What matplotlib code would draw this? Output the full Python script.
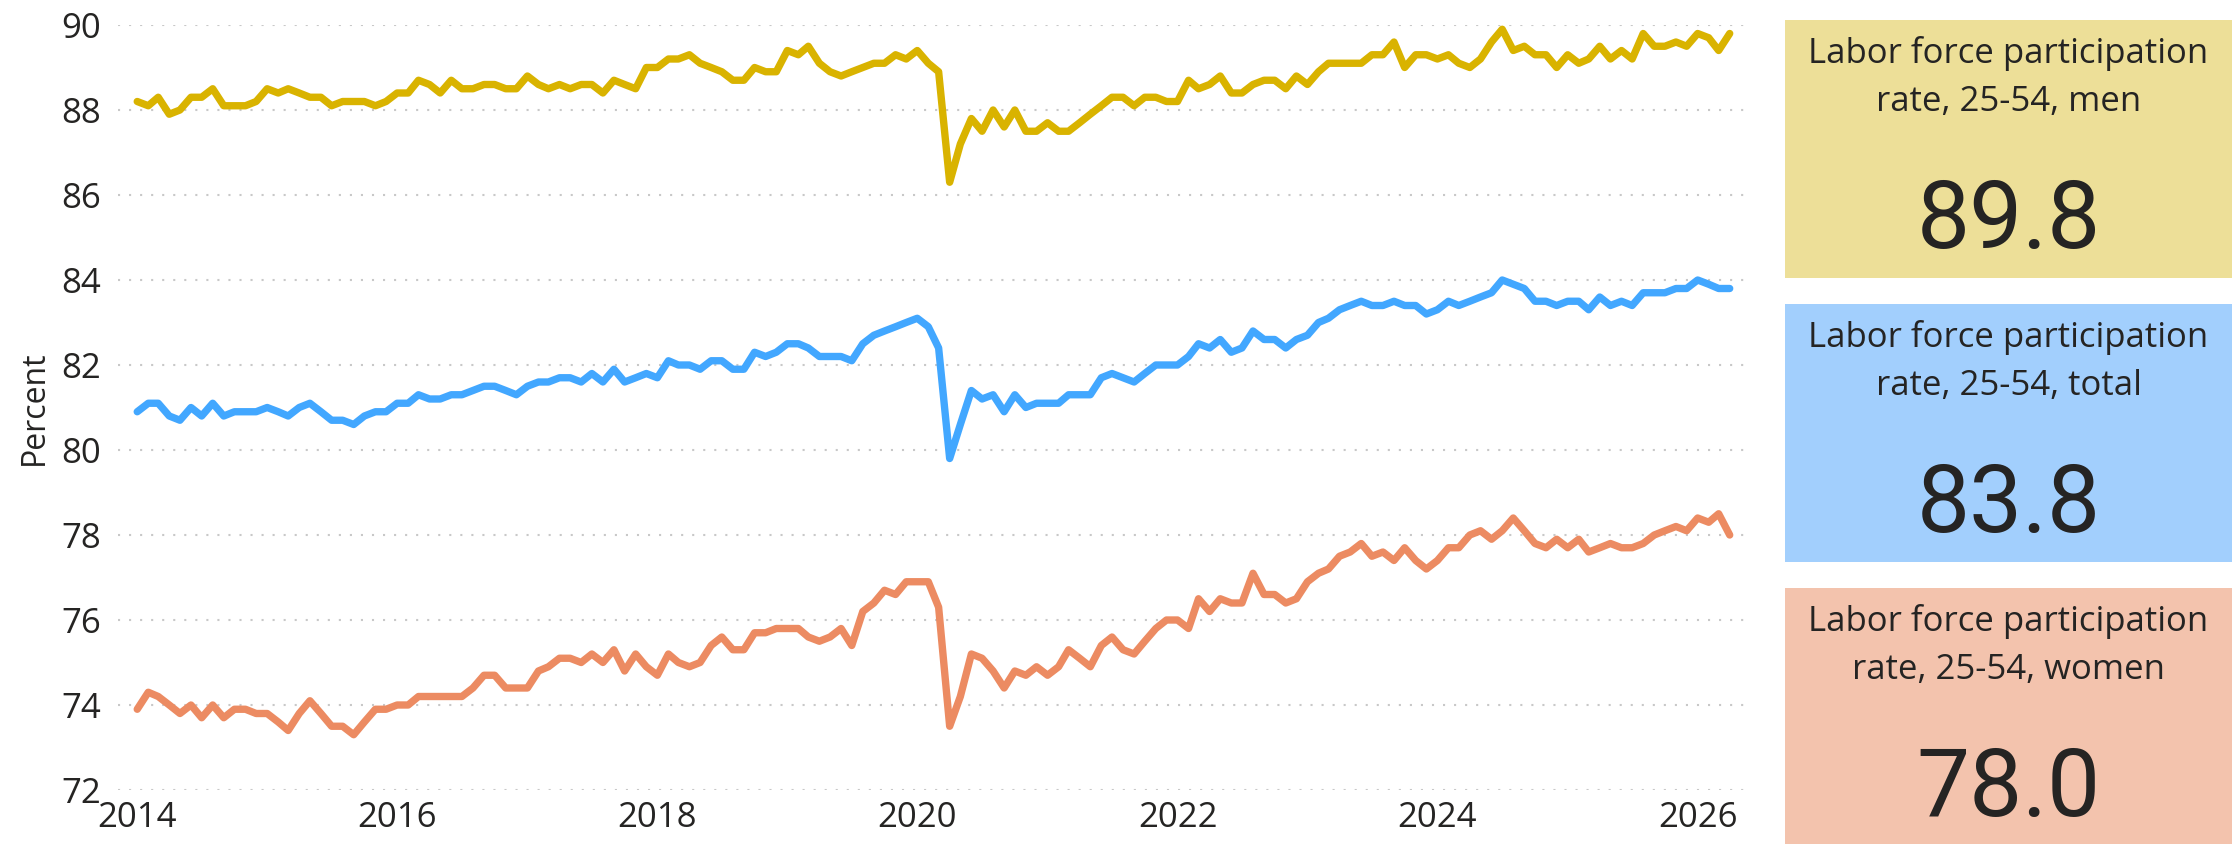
import matplotlib.pyplot as plt
import matplotlib.dates as mdates
from matplotlib.patches import Rectangle
import pandas as pd

# monthly data, Jan 2014 - Apr 2026
months = pd.date_range('2014-01-01', periods=148, freq='MS')

men = [88.2, 88.1, 88.3, 87.9, 88.0, 88.3, 88.3, 88.5, 88.1, 88.1, 88.1, 88.2,
       88.5, 88.4, 88.5, 88.4, 88.3, 88.3, 88.1, 88.2, 88.2, 88.2, 88.1, 88.2,
       88.4, 88.4, 88.7, 88.6, 88.4, 88.7, 88.5, 88.5, 88.6, 88.6, 88.5, 88.5,
       88.8, 88.6, 88.5, 88.6, 88.5, 88.6, 88.6, 88.4, 88.7, 88.6, 88.5, 89.0,
       89.0, 89.2, 89.2, 89.3, 89.1, 89.0, 88.9, 88.7, 88.7, 89.0, 88.9, 88.9,
       89.4, 89.3, 89.5, 89.1, 88.9, 88.8, 88.9, 89.0, 89.1, 89.1, 89.3, 89.2,
       89.4, 89.1, 88.9, 86.3, 87.2, 87.8, 87.5, 88.0, 87.6, 88.0, 87.5, 87.5,
       87.7, 87.5, 87.5, 87.7, 87.9, 88.1, 88.3, 88.3, 88.1, 88.3, 88.3, 88.2,
       88.2, 88.7, 88.5, 88.6, 88.8, 88.4, 88.4, 88.6, 88.7, 88.7, 88.5, 88.8,
       88.6, 88.9, 89.1, 89.1, 89.1, 89.1, 89.3, 89.3, 89.6, 89.0, 89.3, 89.3,
       89.2, 89.3, 89.1, 89.0, 89.2, 89.6, 89.9, 89.4, 89.5, 89.3, 89.3, 89.0,
       89.3, 89.1, 89.2, 89.5, 89.2, 89.4, 89.2, 89.8, 89.5, 89.5, 89.6, 89.5,
       89.8, 89.7, 89.4, 89.8]

total = [80.9, 81.1, 81.1, 80.8, 80.7, 81.0, 80.8, 81.1, 80.8, 80.9, 80.9, 80.9,
         81.0, 80.9, 80.8, 81.0, 81.1, 80.9, 80.7, 80.7, 80.6, 80.8, 80.9, 80.9,
         81.1, 81.1, 81.3, 81.2, 81.2, 81.3, 81.3, 81.4, 81.5, 81.5, 81.4, 81.3,
         81.5, 81.6, 81.6, 81.7, 81.7, 81.6, 81.8, 81.6, 81.9, 81.6, 81.7, 81.8,
         81.7, 82.1, 82.0, 82.0, 81.9, 82.1, 82.1, 81.9, 81.9, 82.3, 82.2, 82.3,
         82.5, 82.5, 82.4, 82.2, 82.2, 82.2, 82.1, 82.5, 82.7, 82.8, 82.9, 83.0,
         83.1, 82.9, 82.4, 79.8, 80.6, 81.4, 81.2, 81.3, 80.9, 81.3, 81.0, 81.1,
         81.1, 81.1, 81.3, 81.3, 81.3, 81.7, 81.8, 81.7, 81.6, 81.8, 82.0, 82.0,
         82.0, 82.2, 82.5, 82.4, 82.6, 82.3, 82.4, 82.8, 82.6, 82.6, 82.4, 82.6,
         82.7, 83.0, 83.1, 83.3, 83.4, 83.5, 83.4, 83.4, 83.5, 83.4, 83.4, 83.2,
         83.3, 83.5, 83.4, 83.5, 83.6, 83.7, 84.0, 83.9, 83.8, 83.5, 83.5, 83.4,
         83.5, 83.5, 83.3, 83.6, 83.4, 83.5, 83.4, 83.7, 83.7, 83.7, 83.8, 83.8,
         84.0, 83.9, 83.8, 83.8]

women = [73.9, 74.3, 74.2, 74.0, 73.8, 74.0, 73.7, 74.0, 73.7, 73.9, 73.9, 73.8,
         73.8, 73.6, 73.4, 73.8, 74.1, 73.8, 73.5, 73.5, 73.3, 73.6, 73.9, 73.9,
         74.0, 74.0, 74.2, 74.2, 74.2, 74.2, 74.2, 74.4, 74.7, 74.7, 74.4, 74.4,
         74.4, 74.8, 74.9, 75.1, 75.1, 75.0, 75.2, 75.0, 75.3, 74.8, 75.2, 74.9,
         74.7, 75.2, 75.0, 74.9, 75.0, 75.4, 75.6, 75.3, 75.3, 75.7, 75.7, 75.8,
         75.8, 75.8, 75.6, 75.5, 75.6, 75.8, 75.4, 76.2, 76.4, 76.7, 76.6, 76.9,
         76.9, 76.9, 76.3, 73.5, 74.2, 75.2, 75.1, 74.8, 74.4, 74.8, 74.7, 74.9,
         74.7, 74.9, 75.3, 75.1, 74.9, 75.4, 75.6, 75.3, 75.2, 75.5, 75.8, 76.0,
         76.0, 75.8, 76.5, 76.2, 76.5, 76.4, 76.4, 77.1, 76.6, 76.6, 76.4, 76.5,
         76.9, 77.1, 77.2, 77.5, 77.6, 77.8, 77.5, 77.6, 77.4, 77.7, 77.4, 77.2,
         77.4, 77.7, 77.7, 78.0, 78.1, 77.9, 78.1, 78.4, 78.1, 77.8, 77.7, 77.9,
         77.7, 77.9, 77.6, 77.7, 77.8, 77.7, 77.7, 77.8, 78.0, 78.1, 78.2, 78.1,
         78.4, 78.3, 78.5, 78.0]

card_titles = ['Labor force participation\nrate, 25-54, men',
               'Labor force participation\nrate, 25-54, total',
               'Labor force participation\nrate, 25-54, women']
card_series = [men, total, women]

line_colors = ['#D9B300', '#42A7FF', '#EC8B62']
card_colors = ['#EDDF98', '#A2CFFD', '#F3C3AD']
text_color = '#252423'
font = 'Open Sans'

W, H = 2239, 844
fig = plt.figure(figsize=(W / 100, H / 100), dpi=100)

# plot area in pixels
left, right, top, bottom = 118, 1750, 25, 790
ax = fig.add_axes([left / W, 1 - bottom / H, (right - left) / W, (bottom - top) / H])

for vals, col in zip([women, total, men], line_colors[::-1]):
    ax.plot(months, vals, color=col, linewidth=5.3, solid_joinstyle='round',
            solid_capstyle='round', clip_on=False)

ax.set_ylim(72, 90)
ax.set_yticks(range(72, 91, 2))
ax.set_xlim(pd.Timestamp('2013-11-08'), pd.Timestamp('2026-05-28'))
ax.xaxis.set_major_locator(mdates.YearLocator(2))
ax.xaxis.set_major_formatter(mdates.DateFormatter('%Y'))

ax.grid(axis='y', color='#C8C8C8', linewidth=1.5, linestyle=(0, (1, 4.3)))
ax.grid(axis='x', visible=False)
ax.set_axisbelow(True)
for s in ax.spines.values():
    s.set_visible(False)

ax.tick_params(axis='both', length=0, labelsize=25, labelcolor=text_color)
ax.tick_params(axis='y', pad=12)
ax.tick_params(axis='x', pad=8)
for lab in ax.get_xticklabels() + ax.get_yticklabels():
    lab.set_fontfamily(font)

ax.set_ylabel('Percent', fontsize=23, color=text_color, fontfamily=font)
ax.yaxis.set_label_coords(-0.041, 0.5)

# cards on the right
card_left, card_right = 1785, 2232
card_tops = [20, 304, 588]
card_h = 258
for title, vals, ctop, ccol in zip(card_titles, card_series, card_tops, card_colors):
    h = card_h if ctop < 500 else H - ctop + 5
    fig.patches.append(Rectangle((card_left / W, 1 - (ctop + h) / H),
                                 (card_right - card_left) / W, h / H,
                                 transform=fig.transFigure, facecolor=ccol,
                                 edgecolor='none', clip_on=False))
    cx = (card_left + card_right) / 2 / W
    line1, line2 = title.split('\n')
    fig.text(cx, 1 - (ctop + 43) / H, line1, ha='center', va='baseline',
             fontsize=25, color=text_color, fontfamily=font)
    fig.text(cx, 1 - (ctop + 91) / H, line2, ha='center', va='baseline',
             fontsize=25, color=text_color, fontfamily=font)
    fig.text(cx, 1 - (ctop + 228) / H, f'{vals[-1]:.1f}', ha='center', va='baseline',
             fontsize=68, color=text_color, fontfamily='Roboto')

fig.savefig('out.png', dpi=100)
